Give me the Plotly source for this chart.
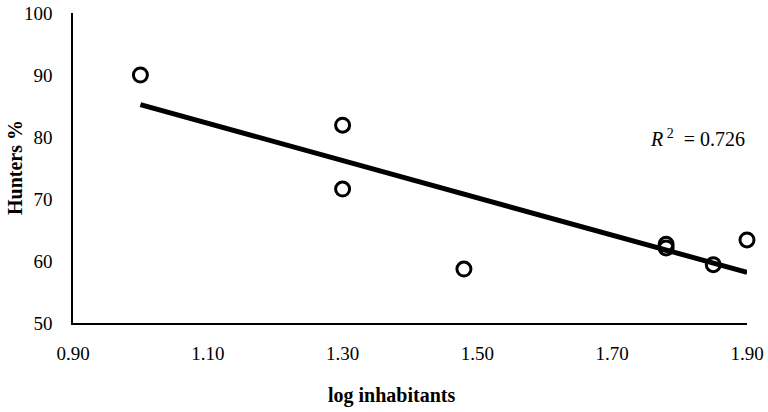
import numpy as np
import plotly.graph_objects as go

log_inhabitants = [1.00, 1.30, 1.30, 1.48, 1.78, 1.78, 1.85, 1.90]
hunters_pct = [90.0, 81.9, 71.6, 58.7, 62.7, 62.1, 59.4, 63.4]
r2_label = "0.726"
x_ticks = [0.90, 1.10, 1.30, 1.50, 1.70, 1.90]
y_ticks = [50, 60, 70, 80, 90, 100]

slope, intercept = np.polyfit(log_inhabitants, hunters_pct, 1)
trend_x = [min(log_inhabitants), max(log_inhabitants)]
trend_y = [slope * v + intercept for v in trend_x]

font = "Liberation Serif"

fig = go.Figure()
fig.add_trace(go.Scatter(
    x=trend_x, y=trend_y, mode="lines",
    line=dict(color="black", width=5), showlegend=False, cliponaxis=False,
))
fig.add_trace(go.Scatter(
    x=log_inhabitants, y=hunters_pct, mode="markers",
    marker=dict(symbol="circle-open", size=14, color="black", line=dict(width=3, color="black")),
    showlegend=False, cliponaxis=False,
))

fig.add_annotation(
    x=1.9, y=79.8, xref="x", yref="y", xanchor="right", yanchor="middle",
    text="<i>R</i><sup> 2</sup>  = " + r2_label, showarrow=False,
    font=dict(family=font, size=20, color="black"),
)
fig.add_annotation(
    x=0.472, y=0, xref="paper", yref="paper", xanchor="center", yanchor="middle",
    yshift=-72, text="<b>log inhabitants</b>", showarrow=False,
    font=dict(family=font, size=20, color="black"),
)
fig.add_annotation(
    x=0, y=0.5, xref="paper", yref="paper", xanchor="center", yanchor="middle",
    xshift=-58, textangle=-90, text="<b>Hunters %</b>", showarrow=False,
    font=dict(family=font, size=20, color="black"),
)

fig.update_layout(
    width=768, height=412,
    margin=dict(l=73, r=21, t=13, b=89, autoexpand=False),
    paper_bgcolor="white", plot_bgcolor="white",
    font=dict(family=font, size=19, color="black"),
    xaxis=dict(
        range=[0.9, 1.9], tickvals=x_ticks, tickformat=".2f",
        showline=True, linecolor="black", linewidth=1.5,
        showgrid=False, zeroline=False, ticks="", automargin=False,
        ticklabelstandoff=12,
        tickfont=dict(family=font, size=19),
    ),
    yaxis=dict(
        range=[50, 100], tickvals=y_ticks,
        showline=True, linecolor="black", linewidth=1.5,
        showgrid=False, zeroline=False, ticks="", automargin=False,
        ticklabelstandoff=15,
        tickfont=dict(family=font, size=19),
    ),
)

fig.write_html(
    "out.html",
    config={"displayModeBar": False},
    post_script="document.body.style.margin='0';document.body.style.overflow='hidden';",
)
